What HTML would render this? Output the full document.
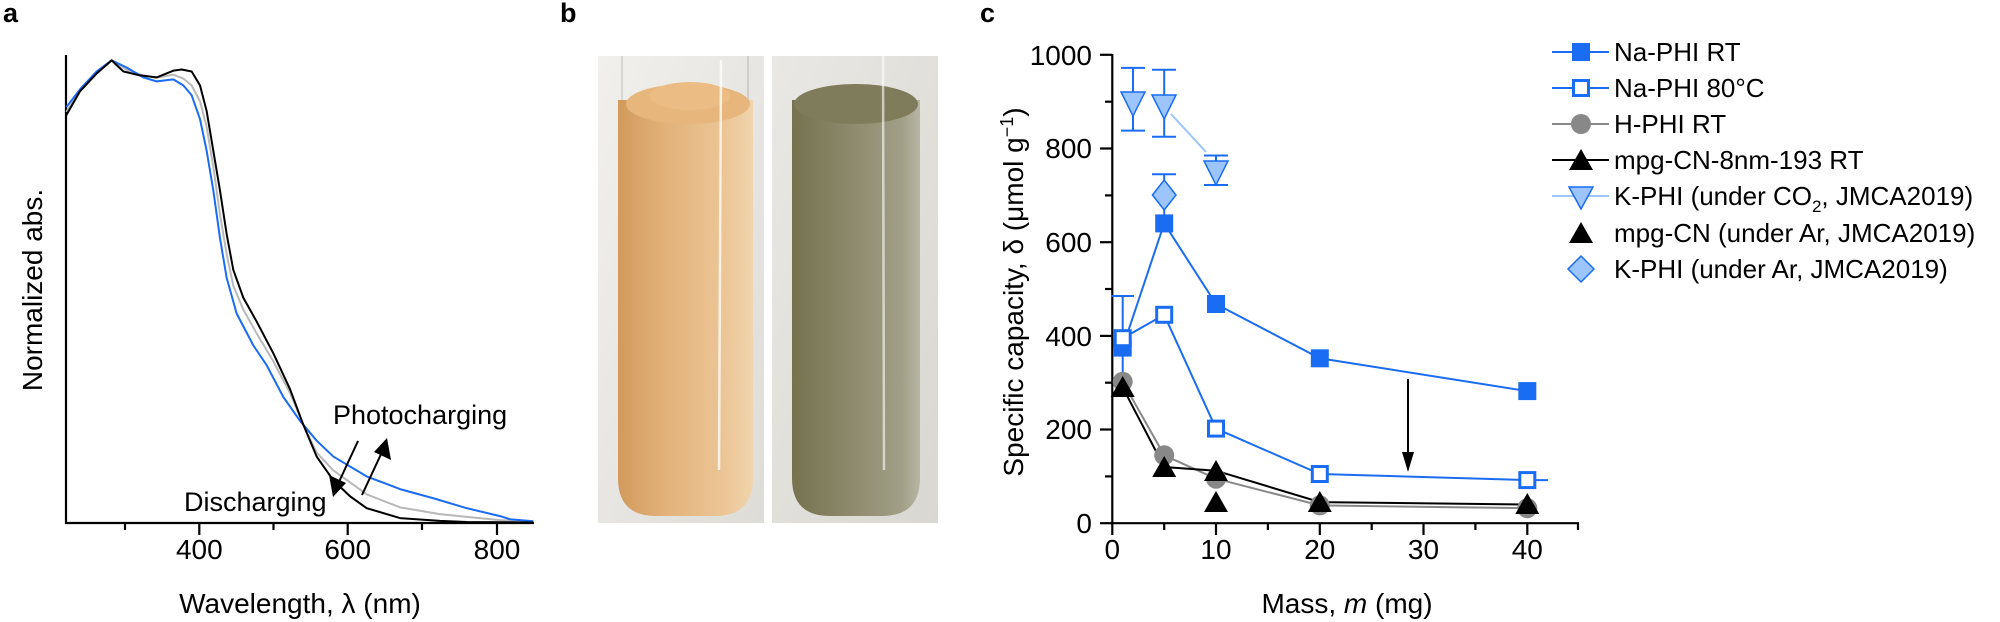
<!DOCTYPE html>
<html><head><meta charset="utf-8"><style>
html,body{margin:0;padding:0;background:#fff;}
svg{display:block;}
text{font-family:"Liberation Sans",Arial,sans-serif;fill:#000;}
</style></head><body>
<svg width="2000" height="622" viewBox="0 0 2000 622" xmlns="http://www.w3.org/2000/svg">
<defs>
<linearGradient id="liqL" x1="0" x2="1" y1="0" y2="0">
<stop offset="0" stop-color="#d29a5c"/><stop offset="0.35" stop-color="#e2b27a"/><stop offset="0.8" stop-color="#ecc697"/><stop offset="1" stop-color="#f1d4ad"/></linearGradient>
<linearGradient id="liqR" x1="0" x2="1" y1="0" y2="0">
<stop offset="0" stop-color="#75724f"/><stop offset="0.4" stop-color="#8a8769"/><stop offset="0.85" stop-color="#a09e85"/><stop offset="1" stop-color="#b7b6a4"/></linearGradient>
<linearGradient id="bgL" x1="0" x2="1" y1="0" y2="1">
<stop offset="0" stop-color="#f1f0ed"/><stop offset="1" stop-color="#dedcd7"/></linearGradient>
<linearGradient id="bgR" x1="0" x2="1" y1="0" y2="1">
<stop offset="0" stop-color="#e9e8e4"/><stop offset="1" stop-color="#d9d7d1"/></linearGradient>
</defs>

<!-- ===== Panel a ===== -->
<text x="3" y="22" font-size="27" font-weight="bold">a</text>
<g stroke="#000" stroke-width="2.2" fill="none">
<line x1="66" y1="55" x2="66" y2="524"/>
<line x1="65" y1="523" x2="534" y2="523"/>
<line x1="125" y1="523" x2="125" y2="530"/>
<line x1="199.3" y1="523" x2="199.3" y2="535"/>
<line x1="273.5" y1="523" x2="273.5" y2="530"/>
<line x1="347.7" y1="523" x2="347.7" y2="535"/>
<line x1="422" y1="523" x2="422" y2="530"/>
<line x1="497" y1="523" x2="497" y2="535"/>
</g>
<g font-size="28" text-anchor="middle">
<text x="199.3" y="559">400</text>
<text x="347.7" y="559">600</text>
<text x="497" y="559">800</text>
<text x="300" y="613">Wavelength, λ (nm)</text>
</g>
<text transform="translate(42,290) rotate(-90)" font-size="28" text-anchor="middle">Normalized abs.</text>

<g transform="scale(0.33333,0.397)" fill="none" stroke-width="2" stroke-linejoin="round">
<polyline vector-effect="non-scaling-stroke" stroke="#b8b8b8" points="199,282 240,228 290,183 335,152 380,176 430,190 470,196 520,188 550,198 575,215 600,255 620,320 640,420 660,540 680,640 700,720 730,780 770,840 820,910 870,990 910,1070 950,1140 1000,1185 1050,1215 1100,1245 1200,1278 1320,1295 1400,1302 1500,1310 1600,1314"/>
<polyline vector-effect="non-scaling-stroke" stroke="#1a6cf2" points="199,270 240,225 290,180 335,152 380,170 430,195 470,205 520,200 550,215 575,240 600,300 620,380 640,480 660,600 680,700 710,790 760,870 800,920 850,1000 900,1060 950,1110 1000,1150 1100,1200 1200,1232 1300,1255 1400,1280 1500,1300 1530,1308 1600,1313"/>
<polyline vector-effect="non-scaling-stroke" stroke="#000" points="199,290 240,230 290,185 335,152 370,180 420,190 470,195 520,178 545,175 575,180 600,215 620,280 640,380 660,480 680,590 700,680 730,750 770,810 820,890 870,980 910,1070 950,1150 1000,1210 1050,1250 1100,1280 1200,1305 1320,1312 1400,1315 1600,1316"/>
</g>
<text x="333" y="424" font-size="27">Photocharging</text>
<text x="184" y="511" font-size="27">Discharging</text>
<g stroke="#000" stroke-width="2">
<line x1="358" y1="441" x2="338" y2="484"/>
<line x1="362" y1="495" x2="382" y2="452"/>
</g>
<polygon points="333,497 329,475 346,483" fill="#000"/>
<polygon points="387,438 391,460 374,452" fill="#000"/>

<!-- ===== Panel b ===== -->
<text x="560" y="22" font-size="27" font-weight="bold">b</text>
<rect x="598" y="56" width="166" height="467" fill="url(#bgL)"/>
<line x1="622" y1="56" x2="622" y2="100" stroke="#d8d6d2" stroke-width="2"/>
<line x1="748" y1="56" x2="748" y2="100" stroke="#d0ceca" stroke-width="2"/>
<path d="M618,100 L618,478 Q618,516 656,516 L715,516 Q753,516 753,478 L753,100 Z" fill="url(#liqL)"/>
<ellipse cx="688" cy="104" rx="62" ry="20" fill="#e6b67c"/>
<ellipse cx="690" cy="96" rx="40" ry="14" fill="#ebbd85"/>
<line x1="721" y1="60" x2="719" y2="470" stroke="#fff" stroke-width="2.5" opacity="0.75"/>
<rect x="772" y="56" width="166" height="467" fill="url(#bgR)"/>
<path d="M792,100 L792,478 Q792,516 830,516 L882,516 Q920,516 920,478 L920,100 Z" fill="url(#liqR)"/>
<ellipse cx="856" cy="104" rx="62" ry="20" fill="#7f7c5c"/>
<line x1="883" y1="56" x2="884" y2="470" stroke="#fff" stroke-width="2.5" opacity="0.6"/>

<!-- ===== Panel c ===== -->
<text x="980" y="22" font-size="27" font-weight="bold">c</text>
<g stroke="#000" stroke-width="2.2" fill="none">
<line x1="1112.3" y1="54" x2="1112.3" y2="524"/>
<line x1="1111" y1="523.2" x2="1579" y2="523.2"/>
<line x1="1100" y1="523.2" x2="1112" y2="523.2"/>
<line x1="1105" y1="476.4" x2="1112" y2="476.4"/>
<line x1="1100" y1="429.5" x2="1112" y2="429.5"/>
<line x1="1105" y1="382.7" x2="1112" y2="382.7"/>
<line x1="1100" y1="335.9" x2="1112" y2="335.9"/>
<line x1="1105" y1="289" x2="1112" y2="289"/>
<line x1="1100" y1="242.2" x2="1112" y2="242.2"/>
<line x1="1105" y1="195.4" x2="1112" y2="195.4"/>
<line x1="1100" y1="148.5" x2="1112" y2="148.5"/>
<line x1="1105" y1="101.7" x2="1112" y2="101.7"/>
<line x1="1100" y1="54.8" x2="1112" y2="54.8"/>
<line x1="1112.3" y1="523" x2="1112.3" y2="535"/>
<line x1="1164.2" y1="523" x2="1164.2" y2="530"/>
<line x1="1216" y1="523" x2="1216" y2="535"/>
<line x1="1267.9" y1="523" x2="1267.9" y2="530"/>
<line x1="1319.8" y1="523" x2="1319.8" y2="535"/>
<line x1="1371.7" y1="523" x2="1371.7" y2="530"/>
<line x1="1423.5" y1="523" x2="1423.5" y2="535"/>
<line x1="1475.4" y1="523" x2="1475.4" y2="530"/>
<line x1="1527.3" y1="523" x2="1527.3" y2="535"/>
<line x1="1578" y1="523" x2="1578" y2="530"/>
</g>
<g font-size="28" text-anchor="end">
<text x="1092" y="533">0</text>
<text x="1092" y="439">200</text>
<text x="1092" y="346">400</text>
<text x="1092" y="252">600</text>
<text x="1092" y="158">800</text>
<text x="1092" y="65">1000</text>
</g>
<g font-size="28" text-anchor="middle">
<text x="1112.3" y="559">0</text>
<text x="1216" y="559">10</text>
<text x="1319.8" y="559">20</text>
<text x="1423.5" y="559">30</text>
<text x="1527.3" y="559">40</text>
<text x="1347" y="613">Mass, <tspan font-style="italic">m</tspan> (mg)</text>
</g>
<text transform="translate(1023,292) rotate(-90)" font-size="28" text-anchor="middle">Specific capacity, δ (μmol g<tspan dy="-10" font-size="18">−1</tspan><tspan dy="10">)</tspan></text>

<g fill="none" stroke-width="2">
<polyline stroke="#1a6cf2" points="1122.7,347.6 1164.2,223.4 1216,304 1319.8,358.3 1527.3,391.1"/>
<polyline stroke="#1a6cf2" points="1122.7,338.2 1164.2,314.8 1216,428.6 1319.8,474 1527.3,480.1 1548,480.1"/>
<polyline stroke="#888" points="1122.7,381.7 1164.2,455.3 1216,478.7 1319.8,505.4 1527.3,508.2"/>
<polyline stroke="#000" points="1122.7,387.4 1164.2,467 1216,470.7 1319.8,502.1 1527.3,504.5"/>
<polyline stroke="#9cc6fb" points="1171,114 1206,152"/>
</g>
<g stroke="#1a6cf2" stroke-width="2">
<line x1="1122.7" y1="296" x2="1122.7" y2="393"/><line x1="1111" y1="296" x2="1134" y2="296"/>
<line x1="1133" y1="67.9" x2="1133" y2="130.6"/><line x1="1121" y1="67.9" x2="1145" y2="67.9"/><line x1="1121" y1="130.6" x2="1145" y2="130.6"/>
<line x1="1164.2" y1="69.8" x2="1164.2" y2="136.8"/><line x1="1152" y1="69.8" x2="1176" y2="69.8"/><line x1="1152" y1="136.8" x2="1176" y2="136.8"/>
<line x1="1216" y1="155.5" x2="1216" y2="185"/><line x1="1204" y1="155.5" x2="1228" y2="155.5"/><line x1="1204" y1="185" x2="1228" y2="185"/>
<line x1="1164.2" y1="174.2" x2="1164.2" y2="215"/><line x1="1152" y1="174.2" x2="1176" y2="174.2"/>
</g>
<g fill="#1a6cf2">
<rect x="1113.7" y="338.6" width="18" height="18"/>
<rect x="1155.2" y="214.4" width="18" height="18"/>
<rect x="1207" y="295" width="18" height="18"/>
<rect x="1310.8" y="349.3" width="18" height="18"/>
<rect x="1518.3" y="382.1" width="18" height="18"/>
</g>
<g fill="#fff" stroke="#1a6cf2" stroke-width="3">
<rect x="1115.2" y="330.7" width="15" height="15"/>
<rect x="1156.7" y="307.3" width="15" height="15"/>
<rect x="1208.5" y="421.1" width="15" height="15"/>
<rect x="1312.3" y="466.5" width="15" height="15"/>
<rect x="1519.8" y="472.6" width="15" height="15"/>
</g>
<g fill="#888">
<circle cx="1122.7" cy="381.7" r="10"/>
<circle cx="1164.2" cy="455.3" r="10"/>
<circle cx="1216" cy="478.7" r="10"/>
<circle cx="1319.8" cy="505.4" r="10"/>
<circle cx="1527.3" cy="508.2" r="10"/>
</g>
<g fill="#000">
<polygon points="1122.7,376 1110.7,397 1134.7,397"/>
<polygon points="1164.2,456 1152.2,477 1176.2,477"/>
<polygon points="1216,460 1204,481 1228,481"/>
<polygon points="1319.8,491 1307.8,512 1331.8,512"/>
<polygon points="1527.3,493 1515.3,514 1539.3,514"/>
<polygon points="1216,491 1204,512 1228,512"/>
</g>
<g fill="#9cc6fb" stroke="#1a6cf2" stroke-width="1.5">
<polygon points="1121,92 1145,92 1133,116"/>
<polygon points="1152,95 1176,95 1164.2,119"/>
<polygon points="1204,161 1228,161 1216,185"/>
<polygon points="1164.2,180 1176,195 1164.2,210 1152.4,195"/>
</g>
<line x1="1408" y1="379" x2="1408" y2="458" stroke="#000" stroke-width="2"/>
<polygon points="1402,452 1414,452 1408,472" fill="#000"/>

<!-- legend -->
<g stroke-width="2">
<line x1="1552" y1="52" x2="1609" y2="52" stroke="#1a6cf2"/>
<line x1="1552" y1="88" x2="1609" y2="88" stroke="#1a6cf2"/>
<line x1="1552" y1="124" x2="1609" y2="124" stroke="#888"/>
<line x1="1552" y1="160" x2="1609" y2="160" stroke="#000"/>
<line x1="1552" y1="196" x2="1609" y2="196" stroke="#9cc6fb"/>
</g>
<rect x="1572" y="43" width="18" height="18" fill="#1a6cf2"/>
<rect x="1573.5" y="80.5" width="15" height="15" fill="#fff" stroke="#1a6cf2" stroke-width="3"/>
<circle cx="1581" cy="124" r="10" fill="#888"/>
<polygon points="1581,149 1569,170 1593,170" fill="#000"/>
<polygon points="1569,187 1593,187 1581,209" fill="#9cc6fb" stroke="#1a6cf2" stroke-width="1.5"/>
<polygon points="1581,222 1569,243 1593,243" fill="#000"/>
<polygon points="1581,256 1594,269 1581,282 1568,269" fill="#9cc6fb" stroke="#1a6cf2" stroke-width="1.5"/>
<g font-size="26">
<text x="1614" y="61">Na-PHI RT</text>
<text x="1614" y="97">Na-PHI 80°C</text>
<text x="1614" y="133">H-PHI RT</text>
<text x="1614" y="169">mpg-CN-8nm-193 RT</text>
<text x="1614" y="205">K-PHI (under CO<tspan dy="7" font-size="17">2</tspan><tspan dy="-7">, JMCA2019)</tspan></text>
<text x="1614" y="242">mpg-CN (under Ar, JMCA2019)</text>
<text x="1614" y="278">K-PHI (under Ar, JMCA2019)</text>
</g>
</svg>
</body></html>
